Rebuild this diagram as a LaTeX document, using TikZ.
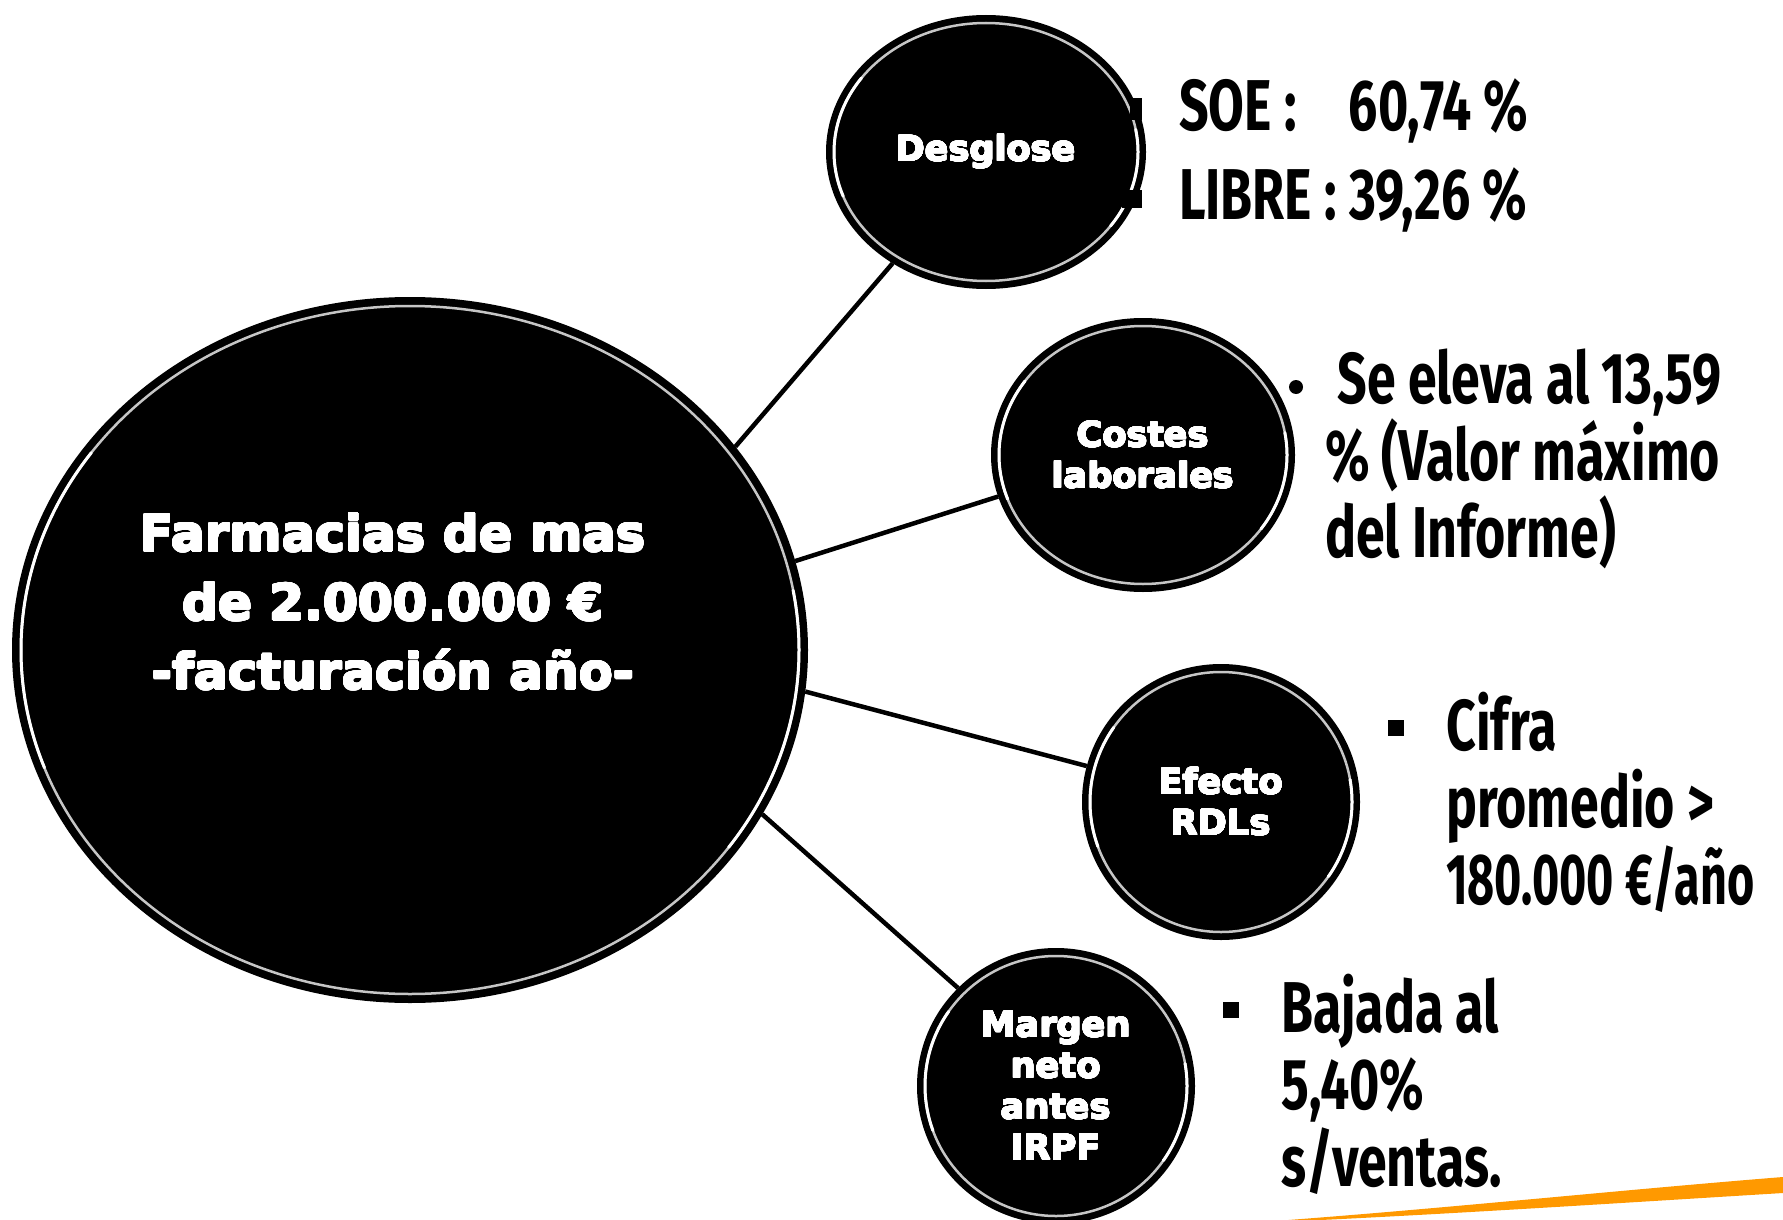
\documentclass[tikz,border=0pt]{standalone}
\usepackage{fontspec}
\usepackage{graphicx}
\usepackage{contour}
\contournumber{24}
\setmainfont{DejaVu Sans}
\newfontfamily\heavyfont{DejaVu Sans Bold}
\newfontfamily\condfont[FakeStretch=0.72]{Fira Sans}
\usetikzlibrary{shapes.geometric}
\definecolor{orangeline}{RGB}{255,153,0}
\newcommand{\bigfnt}{\heavyfont\fontsize{50}{69}\selectfont\contourlength{0.8pt}}
\newcommand{\nodefnt}{\heavyfont\fontsize{35}{41}\selectfont\contourlength{0.55pt}}
\newcommand{\rfnt}{\condfont\bfseries\fontsize{72}{77}\selectfont}
\newcommand{\hv}[1]{\contour{white}{#1}}
\newcommand{\glossy}[3]{%
  \draw[ring] (#1.center) ellipse [x radius=#2, y radius=#3];
  \draw[shine] ([shift={(160:#2 and #3)}]#1.center) arc [start angle=160, end angle=215, x radius=#2, y radius=#3];
  \draw[shine] ([shift={(-10:#2 and #3)}]#1.center) arc [start angle=-10, end angle=35, x radius=#2, y radius=#3];
}
\begin{document}
\begin{tikzpicture}[x=1pt,y=-1pt,
  bub/.style={ellipse, fill=black, draw=black, line width=2pt, inner sep=0pt,
              text=white, font=\nodefnt, align=center},
  ring/.style={draw=gray!45, line width=2.5pt},
  shine/.style={draw=white, line width=3pt, line cap=round},
  link/.style={draw=black, line width=4.5pt},
  rtext/.style={anchor=base west, inner sep=0pt, align=left, font=\rfnt, text=black},
  sq/.style={fill=black}
]
\useasboundingbox (0,0) rectangle (1783,1220);
\fill[white] (0,0) rectangle (1783,1220);

\node[bub, minimum width=794pt, minimum height=704pt] (big) at (410,650) {};
\node[bub, minimum width=318pt, minimum height=272pt] (desg) at (986,152) {\hv{Desglose}};
\node[bub, minimum width=302pt, minimum height=272pt] (cost) at (1143,455) {\hv{Costes}\\\hv{laborales}};
\node[bub, minimum width=276pt, minimum height=274pt] (efec) at (1221,802) {\hv{Efecto}\\\hv{RDLs}};
\node[bub, minimum width=276pt, minimum height=274pt] (marg) at (1056,1086) {\hv{Margen}\\\hv{neto}\\\hv{antes}\\\hv{IRPF}};

% glossy rings
\glossy{big}{389}{344}
\glossy{desg}{152}{129}
\glossy{cost}{144}{129}
\glossy{efec}{131}{130}
\glossy{marg}{131}{130}

\node[text=white, font=\bigfnt, align=center, inner sep=0pt] (bigtext) at (393,602)
  {\hv{Farmacias de mas}\\\hv{de 2.000.000 €}\\\hv{-facturación año-}};

\draw[link] (big.32.7) -- (desg.230.6);
\draw[link] (big.13) -- (cost.196.5);
\draw[link] (big.-6.2) -- (efec.165);
\draw[link] (big.-25) -- (marg.135.6);

% Desglose bullets
\fill[sq] (1130,98) rectangle (1142,120);
\fill[sq] (1122,190) rectangle (1142,208);
\node[rtext] (soe) at (1179,131) {SOE :\hspace*{40pt} 60,74 \%};
\node[rtext] (libre) at (1179,219) {LIBRE : 39,26 \%};

% Costes
\fill[black] (1296,387) circle (7);
\node[rtext] (costtxt) at (1325,557) {\ Se eleva al 13,59\\\% (Valor máximo\\del Informe)};

% Efecto
\fill[sq] (1388,720) rectangle (1404,736);
\node[rtext] (efectxt) at (1446,904) {Cifra\\promedio >\\\scalebox{0.9}[1]{180.000 €/año}};

% Margen
\fill[sq] (1223,1002) rectangle (1239,1018);
\node[rtext] (margtxt) at (1281,1186) {Bajada al\\5,40\%\\s/ventas.};

% orange stroke
\fill[orangeline] (1275,1221) .. controls (1450,1208) and (1620,1190) .. (1783,1177)
  -- (1783,1193) .. controls (1620,1203) and (1450,1214) .. (1300,1221) -- cycle;
\end{tikzpicture}
\end{document}
